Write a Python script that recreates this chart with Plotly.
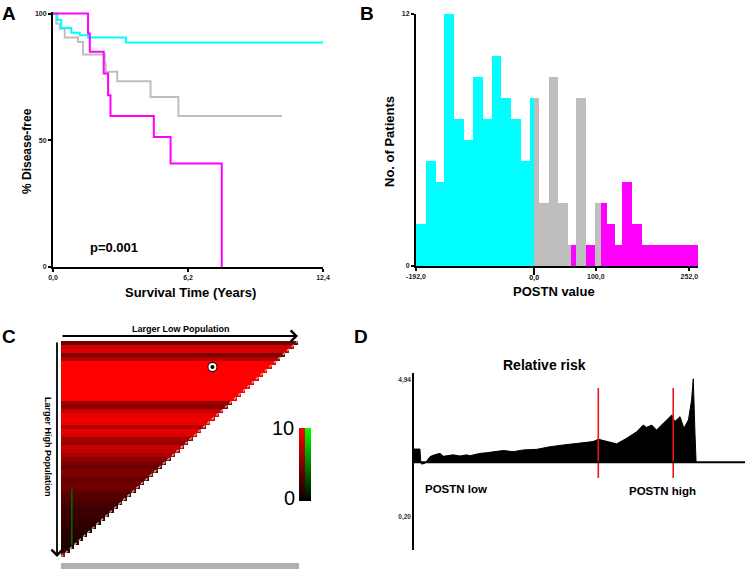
import plotly.graph_objects as go
import numpy as np

W, H = 749, 573
FONT = "Liberation Sans, Arial, sans-serif"

# ---------------- Panel A: Kaplan-Meier (years, % disease-free) ----------------
km_low_t = [0, 0.20, 0.38, 0.84, 1.23, 1.61, 3.35, 12.4]
km_low_s = [100, 97.4, 94.3, 92.4, 91.4, 90.5, 88.6, 88.6]
km_mid_t = [0, 0.15, 0.31, 0.54, 1.15, 1.38, 2.38, 2.42, 2.95, 4.48, 5.76, 10.51]
km_mid_s = [100, 96.0, 94.0, 90.5, 88.8, 83.8, 80.3, 77.0, 73.3, 67.1, 59.6, 59.6]
km_high_t = [0, 1.61, 1.69, 2.33, 2.53, 2.64, 4.63, 5.40, 7.75]
km_high_s = [100, 92.1, 84.9, 76.3, 67.8, 59.6, 51.3, 40.8, 0]
a_xticks = [0, 6.2, 12.4]
a_xticklabels = ["0,0", "6,2", "12,4"]
a_yticks = [0, 50, 100]
p_value_text = "p=0.001"

# ---------------- Panel B: histogram of POSTN value ----------------
low_left = [-192, -175.8, -160.1, -146.6, -130.3, -114.7, -99.0, -82.7, -69.2, -54.1, -37.9, -22.2, -7.0]
low_right = [-175.8, -160.1, -146.6, -130.3, -114.7, -99.0, -82.7, -69.2, -54.1, -37.9, -22.2, -7.0, 0]
low_counts = [2, 5, 4, 12, 7, 6, 9, 7, 10, 8, 7, 5, 8]
mid_left = [0, 8.1, 23.8, 38.9, 54.1, 67.6, 98.4]
mid_right = [8.1, 23.8, 38.9, 54.1, 59.5, 83.8, 108.2]
mid_counts = [8, 3, 9, 3, 1, 8, 3]
high_left = [59.5, 108.2, 117.4, 130.9, 143.3, 159.5, 175.8]
high_right = [108.2, 117.4, 130.9, 143.3, 159.5, 175.8, 266]
high_counts = [1, 3, 2, 1, 4, 2, 1]
b_xticks = [-192, 100, 252]
b_xticklabels = ["-192,0", "100,0", "252,0"]
b_cut_tick = [0]
b_cut_ticklabel = ["0,0"]
b_yticks = [0, 12]

# ---------------- Panel C: cut-point heat map ----------------
grid_n = 54
row_levels = [4.5, 8, 8.5, 5, 7, 10, 10, 10, 10, 10, 10, 10, 10, 10, 10,
              6, 5.5, 8, 9, 9.5, 9, 7, 9, 8.5, 6.5, 6, 8, 7.5, 6.5, 5.5, 5, 4,
              5, 5, 3.8, 4.5, 4.5, 4, 3.3, 3.3, 2.8, 2.6, 2.4, 2.4, 2.1, 1.9, 1.7,
              1.7, 1.5, 1.4, 1.4, 1.2, 2, 7]
green_col = 2
green_rows = [37, 38, 39, 40, 41, 42, 43, 44, 45, 46, 47, 48, 49, 50]
green_level = 4
optimal_cut = (34, 6)  # (column, row)

# ---------------- Panel D: relative risk ----------------
rr_x = [0, 2.1, 2.4, 2.7, 3.9, 5.7, 7.5, 9.2, 10.4, 12.0, 13.9, 16.3, 18.6, 19.8,
        23.3, 25.5, 28.1, 31.6, 35.1, 38.7, 43.4, 48.1, 52.8, 58.7, 63.4, 65.2,
        68.2, 71.7, 75.2, 78.8, 81.1, 82.3, 84.1, 85.8, 88.2, 91.2, 92.3, 94.1,
        95.5, 97.1, 98.2, 98.8, 99.4, 99.8]
rr_y = [2.55, 2.55, 2.09, 2.03, 2.06, 2.29, 2.36, 2.40, 2.30, 2.33, 2.35, 2.31,
        2.35, 2.32, 2.40, 2.42, 2.46, 2.50, 2.46, 2.52, 2.54, 2.63, 2.69, 2.75,
        2.81, 2.89, 2.81, 2.73, 2.92, 3.15, 3.38, 3.30, 3.38, 3.21, 3.44, 3.73,
        3.50, 3.67, 3.27, 3.56, 4.25, 4.98, 3.10, 2.09]
rr_baseline = 2.09
rr_cuts = [65.2, 91.7]
rr_cut_span = [1.55, 4.66]
d_yticks = [0.20, 4.94]
d_yticklabels = ["0,20", "4,94"]


def fx(p):
    return p / W


def fy(p):
    return 1 - p / H


CYAN, GRAY, MAGENTA = "#00FFFF", "#BEBEBE", "#FF00FF"
fig = go.Figure()

# ---- A traces
for t, s, c in [(km_mid_t, km_mid_s, GRAY), (km_low_t, km_low_s, CYAN), (km_high_t, km_high_s, MAGENTA)]:
    fig.add_trace(go.Scatter(x=t, y=s, mode="lines", line=dict(color=c, width=2, shape="hv"),
                             xaxis="x", yaxis="y", showlegend=False, hoverinfo="skip"))

# ---- B traces
for left, right, cnt, c in [(low_left, low_right, low_counts, CYAN),
                            (high_left, high_right, high_counts, MAGENTA),
                            (mid_left, mid_right, mid_counts, GRAY)]:
    fig.add_trace(go.Bar(x=left, y=cnt, width=list(np.subtract(right, left)), offset=0,
                         marker=dict(color=c, line=dict(width=0)),
                         xaxis="x2", yaxis="y2", showlegend=False, hoverinfo="skip"))

# ---- C traces
z_red = [[row_levels[i] if j < grid_n - i else None for j in range(grid_n)] for i in range(grid_n)]
z_green = [[green_level if (j == green_col and i in green_rows) else None for j in range(grid_n)]
           for i in range(grid_n)]
cb_common = dict(xanchor="left", y=fy(464), yanchor="middle", len=73, lenmode="pixels",
                 thickness=6, thicknessmode="pixels", outlinewidth=0, showticklabels=False,
                 ticks="", xpad=0, ypad=0)
fig.add_trace(go.Heatmap(z=z_red, zmin=0, zmax=10, colorscale=[[0, "#000000"], [1, "#FF0000"]],
                         xaxis="x3", yaxis="y3", hoverinfo="skip",
                         colorbar=dict(x=fx(299), **cb_common)))
fig.add_trace(go.Heatmap(z=z_green, zmin=0, zmax=10, colorscale=[[0, "#000000"], [1, "#00FF00"]],
                         xaxis="x3", yaxis="y3", hoverinfo="skip", xgap=2.4,
                         colorbar=dict(x=fx(305), **cb_common)))
for size, col in [(10, "black"), (8, "white"), (4, "black")]:
    fig.add_trace(go.Scatter(x=[optimal_cut[0]], y=[optimal_cut[1]], mode="markers",
                             marker=dict(size=size, color=col, line=dict(width=0)),
                             xaxis="x3", yaxis="y3", showlegend=False, hoverinfo="skip"))

# ---- D traces
fig.add_trace(go.Scatter(x=[rr_x[0], rr_x[-1]], y=[rr_baseline, rr_baseline], mode="lines",
                         line=dict(color="black", width=0), xaxis="x4", yaxis="y4",
                         showlegend=False, hoverinfo="skip"))
fig.add_trace(go.Scatter(x=rr_x, y=rr_y, mode="lines", fill="tonexty", fillcolor="black",
                         line=dict(color="black", width=1), xaxis="x4", yaxis="y4",
                         showlegend=False, hoverinfo="skip"))
for c in rr_cuts:
    fig.add_trace(go.Scatter(x=[c, c], y=rr_cut_span, mode="lines", line=dict(color="#E8161B", width=1.6),
                             xaxis="x4", yaxis="y4", showlegend=False, hoverinfo="skip"))

tickfont = dict(family=FONT, size=7, color="#222222", weight="bold")
common = dict(showgrid=False, zeroline=False, showline=True, linecolor="black", linewidth=2,
              ticks="outside", ticklen=3, tickwidth=1.5, tickcolor="black", tickfont=tickfont,
              automargin=False, color="black")

fig.update_layout(
    template="none",
    width=W, height=H, margin=dict(l=0, r=0, t=0, b=0, pad=0, autoexpand=False),
    paper_bgcolor="white", plot_bgcolor="rgba(0,0,0,0)",
    font=dict(family=FONT, color="black"), showlegend=False, barmode="overlay", bargap=0,
    xaxis=dict(domain=[fx(53), fx(323)], range=[0, 12.4], anchor="y", tickvals=a_xticks,
               ticktext=a_xticklabels, **common),
    yaxis=dict(domain=[fy(267), fy(12)], range=[0, 100.6], anchor="x", tickvals=a_yticks, **common),
    xaxis2=dict(domain=[fx(416), fx(698)], range=[-192, 266], anchor="y2", tickvals=b_xticks,
                ticktext=b_xticklabels, **common),
    xaxis5=dict(domain=[fx(416), fx(698)], range=[-192, 266], anchor="y2", overlaying="x2",
                side="bottom", showgrid=False, zeroline=False, showline=False, ticks="outside",
                ticklen=8, tickwidth=1.5, tickcolor="black", color="black",
                tickfont=dict(family=FONT, size=7, color="black", weight="bold"),
                ticklabelstandoff=-3,
                tickvals=b_cut_tick, ticktext=b_cut_ticklabel, automargin=False),
    yaxis2=dict(domain=[fy(266), fy(14)], range=[0, 12], anchor="x2", tickvals=b_yticks, **common),
    xaxis3=dict(domain=[fx(61), fx(298)], range=[-0.5, grid_n - 0.5], anchor="y3", visible=False),
    yaxis3=dict(domain=[fy(557), fy(341)], range=[grid_n - 0.5, -0.5], anchor="x3", visible=False),
    xaxis4=dict(domain=[fx(414), fx(745)], range=[0, 117.1], anchor="y4", visible=False),
    yaxis4=dict(domain=[fy(550), fy(373)], range=[-0.94, 5.18], anchor="x4", showgrid=False,
                zeroline=False, showline=True, linecolor="black", linewidth=1.5, ticks="",
                tickvals=d_yticks, ticktext=d_yticklabels, automargin=False,
                tickfont=dict(family=FONT, size=6.5, color="#333333", weight="bold")),
)
# invisible trace so the overlay axis carrying the "0,0" tick is drawn
fig.add_trace(go.Scatter(x=b_cut_tick, y=[0], mode="markers", marker=dict(opacity=0),
                         xaxis="x5", yaxis="y2", showlegend=False, hoverinfo="skip"))

# baseline of relative-risk plot, diagonal edge of heat map, grey bar under heat map
fig.add_shape(type="line", xref="x4 domain", yref="y4", x0=0, x1=1, y0=rr_baseline, y1=rr_baseline,
              line=dict(color="black", width=2))
fig.add_shape(type="line", xref="x3", yref="y3", x0=-0.5, y0=grid_n - 0.5, x1=grid_n - 0.5, y1=-0.5,
              line=dict(color="#AAAAAA", width=1.5, dash="dot"))
fig.add_shape(type="rect", xref="paper", yref="paper", x0=fx(61), x1=fx(299), y0=fy(569), y1=fy(563),
              fillcolor="#B0B0B0", line=dict(width=0))


def ann(text, px, py, size, bold=True, angle=0, xanchor="center", color="black"):
    fig.add_annotation(text=text, x=fx(px), y=fy(py), xref="paper", yref="paper", showarrow=False,
                       xanchor=xanchor, yanchor="middle", textangle=angle,
                       font=dict(family=FONT, size=size, color=color, weight="bold" if bold else "normal"))


ann("A", 9, 13, 19)
ann("B", 367, 13, 19)
ann("C", 9, 336, 19)
ann("D", 361, 336, 19)
ann("% Disease-free", 27, 151, 12, angle=-90)
ann("Survival Time (Years)", 190, 292, 13)
ann(p_value_text, 114, 247, 13)
ann("No. of Patients", 390, 142, 13, angle=-90)
ann("POSTN value", 554, 291, 13)
ann("Larger Low Population", 181, 329, 9)
ann("Larger High Population", 48, 447, 9, angle=90)
ann("10", 283, 428, 20, bold=False)
ann("0", 289, 498, 20, bold=False)
ann("Relative risk", 544, 365, 14)
ann("POSTN low", 456, 489, 11.5)
ann("POSTN high", 662, 491, 11.5)

# arrows around heat map (offsets in pixels: horizontal span and vertical span of the map)
fig.add_annotation(x=fx(298), y=fy(336), ax=-(298 - 61), ay=0, xref="paper", yref="paper",
                   axref="pixel", ayref="pixel", text="", showarrow=True, arrowhead=4,
                   arrowsize=1.2, arrowwidth=1.8, arrowcolor="black")
fig.add_annotation(x=fx(57), y=fy(557), ax=0, ay=-(557 - 341), xref="paper", yref="paper",
                   axref="pixel", ayref="pixel", text="", showarrow=True, arrowhead=4,
                   arrowsize=1.2, arrowwidth=1.8, arrowcolor="black")

fig.write_html("out.html", config={"displayModeBar": False},
               post_script="document.body.style.margin='0';document.body.style.padding='0';")
